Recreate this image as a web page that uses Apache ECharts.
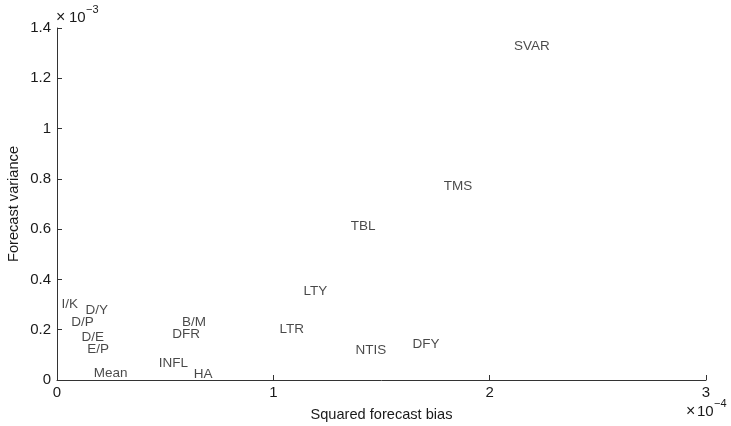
<!DOCTYPE html>
<html>
<head>
<meta charset="utf-8">
<script src="https://cdn.jsdelivr.net/npm/echarts@6/dist/echarts.min.js"></script>
<style>
html,body{margin:0;padding:0;background:#fff;}
#c{width:731px;height:426px;}
</style>
</head>
<body>
<div id="c"></div>
<script>
// Units: bias in 1e-4, variance in 1e-3 (as on the axes)
const names = ['SVAR','TMS','TBL','LTY','LTR','NTIS','DFY','I/K','D/Y','D/P','D/E','E/P','Mean','INFL','HA','B/M','DFR'];
const bias = [2.11, 1.785, 1.355, 1.137, 1.026, 1.378, 1.641, 0.018, 0.129, 0.063, 0.111, 0.137, 0.168, 0.468, 0.630, 0.576, 0.530];
const variance = [1.329, 0.772, 0.613, 0.354, 0.203, 0.119, 0.143, 0.302, 0.278, 0.228, 0.170, 0.123, 0.025, 0.068, 0.021, 0.229, 0.183];
const xTicks = [0, 1, 2, 3];
const yTicks = [0, 0.2, 0.4, 0.6, 0.8, 1, 1.2, 1.4];

const FONT = '"Liberation Sans", Arial, Helvetica, sans-serif';
const TXT = '#1a1a1a';
const data = names.map((n, i) => ({ value: [bias[i], variance[i]], name: n }));

const chart = echarts.init(document.getElementById('c'));
chart.setOption({
  animation: false,
  backgroundColor: '#fff',
  grid: { left: 57, right: 25, top: 28, bottom: 46, containLabel: false, outerBoundsMode: 'none' },
  xAxis: {
    type: 'value', min: 0, max: 3, interval: 1,
    name: 'Squared forecast bias', nameLocation: 'middle', nameGap: 27, nameMoveOverlap: false,
    nameTextStyle: { fontFamily: FONT, fontSize: 14.6, color: TXT },
    axisLine: { show: true, lineStyle: { color: '#333', width: 1 } },
    axisTick: { show: true, inside: true, length: 5, lineStyle: { color: '#333' } },
    axisLabel: { fontFamily: FONT, fontSize: 15, color: TXT, margin: 5,
      formatter: v => String(v) },
    splitLine: { show: false }
  },
  yAxis: {
    type: 'value', min: 0, max: 1.4, interval: 0.2,
    name: 'Forecast variance', nameLocation: 'middle', nameGap: 36, nameMoveOverlap: false,
    nameTextStyle: { fontFamily: FONT, fontSize: 14.6, color: TXT },
    axisLine: { show: true, lineStyle: { color: '#333', width: 1 } },
    axisTick: { show: true, inside: true, length: 5, lineStyle: { color: '#333' } },
    axisLabel: { fontFamily: FONT, fontSize: 15, color: TXT, margin: 6,
      formatter: v => String(+v.toFixed(1)) },
    splitLine: { show: false }
  },
  series: [{
    type: 'scatter',
    data: data,
    symbolSize: 1,
    itemStyle: { color: 'rgba(0,0,0,0)' },
    label: {
      show: true, position: 'right', distance: 0,
      formatter: p => p.name,
      fontFamily: FONT, fontSize: 13.5, color: TXT
    }
  }],
  graphic: [
    { type: 'text', left: 56, top: 10, style: { text: '×', font: '16px ' + FONT, fill: TXT } },
    { type: 'text', left: 69, top: 10, style: { text: '10', font: '15px ' + FONT, fill: TXT } },
    { type: 'text', left: 86, top: 4, style: { text: '−3', font: '11px ' + FONT, fill: TXT } },
    { type: 'text', left: 686, top: 404, style: { text: '×', font: '16px ' + FONT, fill: TXT } },
    { type: 'text', left: 697, top: 404, style: { text: '10', font: '15px ' + FONT, fill: TXT } },
    { type: 'text', left: 714, top: 398, style: { text: '−4', font: '11px ' + FONT, fill: TXT } }
  ]
});
</script>
</body>
</html>
